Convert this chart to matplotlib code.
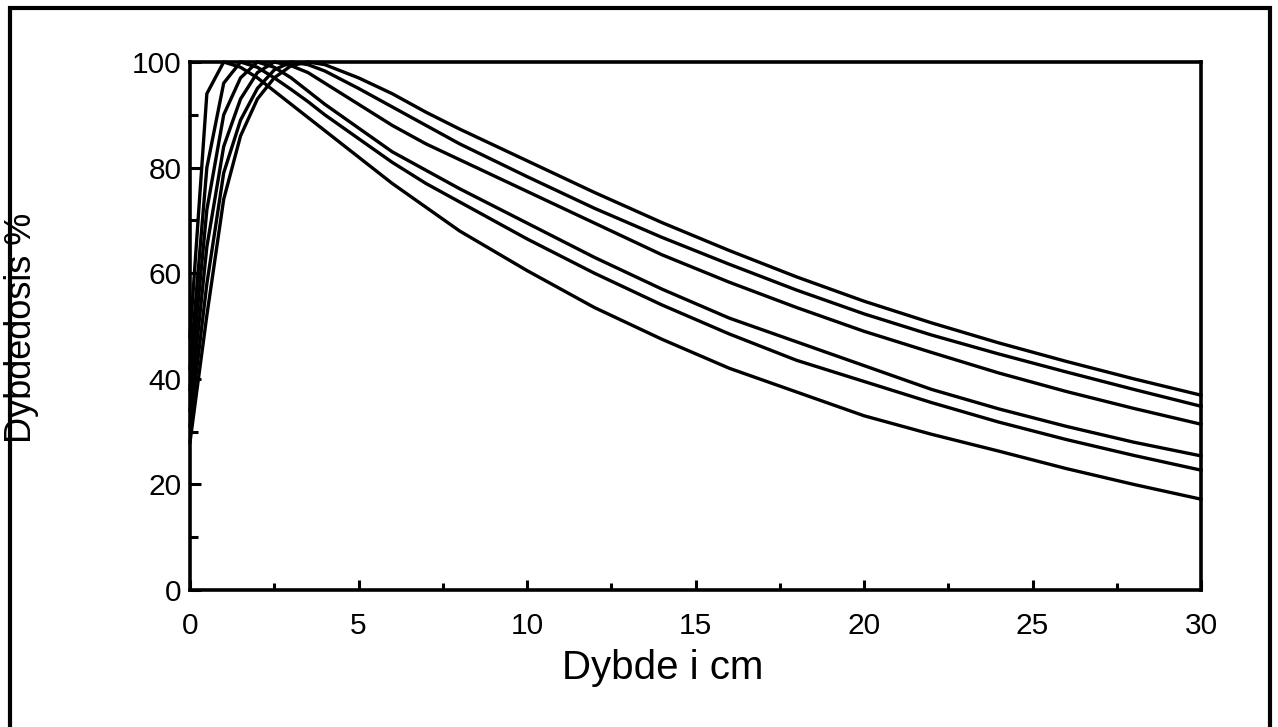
import matplotlib.pyplot as plt
from matplotlib.patches import Rectangle
from matplotlib.ticker import MultipleLocator

plt.rcParams['font.family'] = ['Liberation Sans', 'DejaVu Sans']

# depth in cm
depth = [0, 0.5, 1, 1.5, 2, 2.5, 3, 3.5, 4, 5, 6, 7, 8, 10, 12, 14, 16, 18,
         20, 22, 24, 26, 28, 30]

# depth dose in %, one list per beam
dose_a = [48, 94, 100, 99, 97, 94.5, 92, 89.5, 87, 82, 77, 72.5, 68, 60.5,
          53.5, 47.5, 42, 37.5, 33, 29.5, 26.3, 23, 20, 17.2]
dose_b = [42, 80, 96, 100, 99, 97, 94.8, 92.5, 90, 85.5, 81, 77, 73.5, 66.5,
          60, 54, 48.5, 43.5, 39.5, 35.5, 31.8, 28.5, 25.5, 22.7]
dose_c = [38, 72, 90, 97, 100, 99, 97, 94.5, 92, 87.5, 83, 79.5, 76, 69.5,
          63, 57, 51.5, 47, 42.5, 38, 34.3, 31, 28, 25.4]
dose_d = [34, 65, 84, 93, 98, 100, 99.3, 98, 96, 92, 88, 84.5, 81.5, 75.5,
          69.5, 63.5, 58.3, 53.5, 49, 45, 41.1, 37.6, 34.4, 31.4]
dose_e = [31, 58, 79, 89, 95, 98.5, 100, 99.5, 98.3, 95, 91.5, 88, 84.5, 78.3,
          72.3, 66.8, 61.7, 56.8, 52.3, 48.3, 44.7, 41.3, 38, 34.8]
dose_f = [28, 52, 74, 86, 93, 97, 99.3, 100, 99.5, 97, 94, 90.5, 87.3, 81.3,
          75.3, 69.6, 64.3, 59.3, 54.7, 50.6, 46.8, 43.3, 40, 36.9]

curves = [dose_a, dose_b, dose_c, dose_d, dose_e, dose_f]

fig = plt.figure(figsize=(12.78, 7.27), dpi=100)
ax = fig.add_axes([190 / 1278, 1 - 590 / 727, 1011 / 1278, 528 / 727])

for dose in curves:
    ax.plot(depth, dose, color="black", lw=2.4, clip_on=False)

ax.set_xlim(0, 30)
ax.set_ylim(0, 100)
ax.xaxis.set_major_locator(MultipleLocator(5))
ax.xaxis.set_minor_locator(MultipleLocator(2.5))
ax.yaxis.set_major_locator(MultipleLocator(20))
ax.yaxis.set_minor_locator(MultipleLocator(10))
ax.tick_params(axis="x", which="major", direction="in", length=7, width=2.2,
               labelsize=21.5, pad=16)
ax.tick_params(axis="x", which="minor", direction="in", length=5, width=2.2)
ax.tick_params(axis="y", which="major", direction="in", length=8, width=2.2,
               labelsize=21.5, pad=6)
ax.tick_params(axis="y", which="minor", direction="in", length=6, width=2.2)
for side in ax.spines.values():
    side.set_linewidth(2.6)

fig.text(663 / 1278, 1 - 668 / 727, "Dybde i cm", fontsize=29,
         ha="center", va="center")
fig.text(22 / 1278, 1 - 328 / 727, "Dybdedosis %", fontsize=26,
         rotation=90, ha="center", va="center")

# outer frame, open at the bottom edge
fig.patches.append(Rectangle((10 / 1278, -0.05), 1260 / 1278, 1.05 - 8 / 727,
                             transform=fig.transFigure, fill=False,
                             edgecolor="black", lw=3, zorder=10))

fig.savefig("out.png", dpi=100)
